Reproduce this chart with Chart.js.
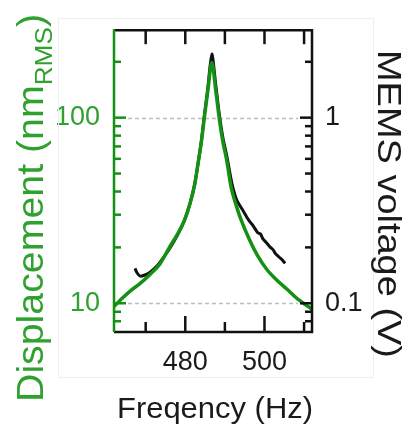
<!DOCTYPE html>
<html>
<head>
<meta charset="utf-8">
<script src="https://cdn.jsdelivr.net/npm/chart.js@4/dist/chart.umd.min.js"></script>
<style>
  html, body { margin: 0; padding: 0; background: #ffffff; }
  #wrap { width: 403px; height: 425px; position: relative; }
</style>
</head>
<body>
<div id="wrap"><canvas id="c" width="403" height="425"></canvas></div>
<script>
// ---- data ----
const fitFreq = [462.0, 464.0, 466.0, 468.6, 471.1, 473.6, 476.1, 478.0, 479.8, 481.2, 482.4, 483.3, 484.1, 484.8, 485.7, 486.7, 487.7, 488.5, 489.4, 490.4, 491.6, 492.8, 494.0, 496.3, 498.3, 500.6, 503.0, 505.7, 508.5, 512.0];
const fitDisp = [9.6, 10.6, 11.6, 12.8, 14.3, 16.3, 20.2, 23.5, 28.0, 34.5, 44, 58, 75, 100, 140, 198, 140, 102, 76, 60, 42, 34, 28.5, 21.8, 18.0, 15.2, 13.4, 11.9, 10.5, 9.3];

const memsFreq = [467.3, 467.8, 468.6, 469.8, 471.1, 472.5, 473.6, 476.1, 478.0, 479.8, 481.2, 482.4, 483.3, 484.1, 484.8, 485.7, 486.7, 487.7, 488.6, 489.5, 490.5, 491.8, 493.0, 494.6, 495.8, 496.5, 497.1, 498.3, 499.0, 499.6, 500.5, 501.5, 502.2, 502.7, 503.6, 504.4, 505.2];
const memsVolt = [0.154, 0.146, 0.140, 0.142, 0.147, 0.156, 0.166, 0.198, 0.232, 0.28, 0.345, 0.44, 0.58, 0.76, 1.02, 1.45, 2.20, 1.50, 1.04, 0.78, 0.62, 0.44, 0.36, 0.315, 0.285, 0.272, 0.262, 0.24, 0.236, 0.222, 0.212, 0.2, 0.194, 0.186, 0.178, 0.172, 0.164];

const xTickValues = [470, 480, 490, 500, 510];
const xTickLabels = [480, 500];
const yTickLabels = [10, 100];
const y2TickLabels = [0.1, 1];

const xTitle = 'Freqency (Hz)';
const yTitleMain = 'Displacement (nm';
const yTitleSub = 'RMS';
const yTitleEnd = ')';
const y2Title = 'MEMS voltage (V)';

// ---- styles ----
const GREEN_TEXT = '#2ea12e';
const GREEN_LINE = '#149014';
const SANS = "'Liberation Sans', Arial, sans-serif";

function hasLabel(list, v) {
  return list.some(L => Math.abs(v - L) / L < 1e-6);
}
function isNice(v) {
  const e = Math.floor(Math.log10(v) + 1e-9);
  const s = v / Math.pow(10, e);
  return Math.abs(s - Math.round(s)) < 1e-6;
}

const framePlugin = {
  id: 'framePlugin',
  beforeDatasetsDraw(chart) {
    const { ctx, chartArea: a, scales } = chart;
    ctx.save();
    ctx.strokeStyle = '#bdbdbd';
    ctx.lineWidth = 1.5;
    ctx.setLineDash([4, 3]);
    yTickLabels.forEach(v => {
      const py = Math.round(scales.y.getPixelForValue(v)) + 0.5;
      ctx.beginPath();
      ctx.moveTo(a.left + 14, py);
      ctx.lineTo(a.right - 14, py);
      ctx.stroke();
    });
    ctx.restore();
  },
  afterDatasetsDraw(chart) {
    const { ctx, chartArea: a, scales } = chart;
    ctx.save();
    ctx.lineCap = 'butt';
    ctx.lineWidth = 2.5;
    ctx.strokeStyle = '#111';
    ctx.beginPath();
    ctx.moveTo(a.left, a.top); ctx.lineTo(a.right, a.top);
    ctx.lineTo(a.right, a.bottom); ctx.lineTo(a.left, a.bottom);
    ctx.stroke();
    ctx.strokeStyle = GREEN_LINE;
    ctx.beginPath();
    ctx.moveTo(a.left, a.top - 1); ctx.lineTo(a.left, a.bottom);
    ctx.stroke();

    scales.y.ticks.forEach(t => {
      if (!isNice(t.value)) return;
      const py = scales.y.getPixelForValue(t.value);
      if (py < a.top + 2 || py > a.bottom - 2) return;
      const len = hasLabel(yTickLabels, t.value) ? 12 : 7;
      ctx.strokeStyle = GREEN_LINE;
      ctx.beginPath(); ctx.moveTo(a.left, py); ctx.lineTo(a.left + len, py); ctx.stroke();
    });
    scales.y2.ticks.forEach(t => {
      if (!isNice(t.value)) return;
      const py = scales.y2.getPixelForValue(t.value);
      if (py < a.top + 2 || py > a.bottom - 2) return;
      const len = hasLabel(y2TickLabels, t.value) ? 12 : 7;
      ctx.strokeStyle = '#111';
      ctx.beginPath(); ctx.moveTo(a.right, py); ctx.lineTo(a.right - len, py); ctx.stroke();
    });
    scales.x.ticks.forEach(t => {
      const px = scales.x.getPixelForValue(t.value);
      const major = xTickLabels.includes(t.value);
      ctx.strokeStyle = '#111';
      ctx.beginPath(); ctx.moveTo(px, a.bottom); ctx.lineTo(px, a.bottom - (major ? 16 : 10)); ctx.stroke();
      ctx.beginPath(); ctx.moveTo(px, a.top); ctx.lineTo(px, a.top + 14); ctx.stroke();
    });
    ctx.restore();
  },
  afterDraw(chart) {
    const { ctx } = chart;
    ctx.save();
    ctx.strokeStyle = '#eeeeee';
    ctx.lineWidth = 1;
    ctx.strokeRect(58.5, 18.5, 315, 359);

    // left title, rotated, with subscript, fitted to its length in the reference
    ctx.fillStyle = GREEN_TEXT;
    ctx.translate(43, 208);
    ctx.rotate(-Math.PI / 2);
    ctx.textBaseline = 'alphabetic';
    ctx.textAlign = 'left';
    const mainFont = '36px ' + SANS, subFont = '24px ' + SANS;
    ctx.font = mainFont; const wa = ctx.measureText(yTitleMain).width; const wc = ctx.measureText(yTitleEnd).width;
    ctx.font = subFont; const wb = ctx.measureText(yTitleSub).width;
    const total = wa + wb + wc;
    ctx.scale(388 / total, 1);
    let x0 = -total / 2;
    ctx.font = mainFont; ctx.fillText(yTitleMain, x0, 0);
    ctx.font = subFont; ctx.fillText(yTitleSub, x0 + wa, 9);
    ctx.font = mainFont; ctx.fillText(yTitleEnd, x0 + wa + wb, 0);
    ctx.restore();

    // right title
    ctx.save();
    ctx.fillStyle = '#1a1a1a';
    ctx.translate(378, 204);
    ctx.rotate(Math.PI / 2);
    ctx.font = '33px ' + SANS;
    const wr = ctx.measureText(y2Title).width;
    ctx.scale(308 / wr, 1);
    ctx.textAlign = 'center';
    ctx.textBaseline = 'alphabetic';
    ctx.fillText(y2Title, 0, 0);
    ctx.restore();

    // bottom title
    ctx.save();
    ctx.fillStyle = '#1a1a1a';
    ctx.font = '29px ' + SANS;
    const wx = ctx.measureText(xTitle).width;
    ctx.translate(215, 418);
    ctx.scale(196 / wx, 1);
    ctx.textAlign = 'center';
    ctx.textBaseline = 'alphabetic';
    ctx.fillText(xTitle, 0, 0);
    ctx.restore();
  }
};

const fitData = fitFreq.map((f, i) => ({ x: f, y: fitDisp[i] }));
const memsData = memsFreq.map((f, i) => ({ x: f, y: memsVolt[i] }));

new Chart(document.getElementById('c'), {
  type: 'line',
  data: {
    datasets: [
      { label: 'Displacement', data: fitData, yAxisID: 'y', borderColor: GREEN_LINE, borderWidth: 3.5,
        pointRadius: 0, cubicInterpolationMode: 'monotone', fill: false, order: 0, clip: false },
      { label: 'MEMS voltage', data: memsData, yAxisID: 'y2', borderColor: '#111111', borderWidth: 3,
        pointRadius: 0, tension: 0.25, fill: false, order: 1, clip: false }
    ]
  },
  options: {
    responsive: false,
    animation: false,
    devicePixelRatio: 1,
    layout: { padding: { top: 29, left: 0, right: 0, bottom: 0 } },
    plugins: { legend: { display: false }, tooltip: { enabled: false }, title: { display: false } },
    scales: {
      x: {
        type: 'linear', position: 'bottom', min: 462, max: 512,
        afterBuildTicks: s => { s.ticks = xTickValues.map(v => ({ value: v })); },
        afterFit: s => { s.height = 93; },
        grid: { display: false, drawTicks: false }, border: { display: false },
        ticks: { autoSkip: false, maxRotation: 0, padding: 14, color: '#1a1a1a',
          font: { family: SANS, size: 27 },
          callback: v => xTickLabels.includes(v) ? String(v) : '' }
      },
      y: {
        type: 'logarithmic', position: 'left', min: 7, max: 296,
        afterFit: s => { s.width = 114; },
        grid: { display: false, drawTicks: false }, border: { display: false },
        ticks: { autoSkip: false, padding: 14, color: GREEN_TEXT, font: { family: SANS, size: 27 },
          callback: v => hasLabel(yTickLabels, v) ? String(v) : '' }
      },
      y2: {
        type: 'logarithmic', position: 'right', min: 0.07, max: 2.96,
        afterFit: s => { s.width = 91; },
        grid: { display: false, drawTicks: false }, border: { display: false },
        ticks: { autoSkip: false, padding: 13, color: '#1a1a1a', font: { family: SANS, size: 27 },
          callback: v => hasLabel(y2TickLabels, v) ? String(+v.toPrecision(3)) : '' }
      }
    }
  },
  plugins: [framePlugin]
});
</script>
</body>
</html>
